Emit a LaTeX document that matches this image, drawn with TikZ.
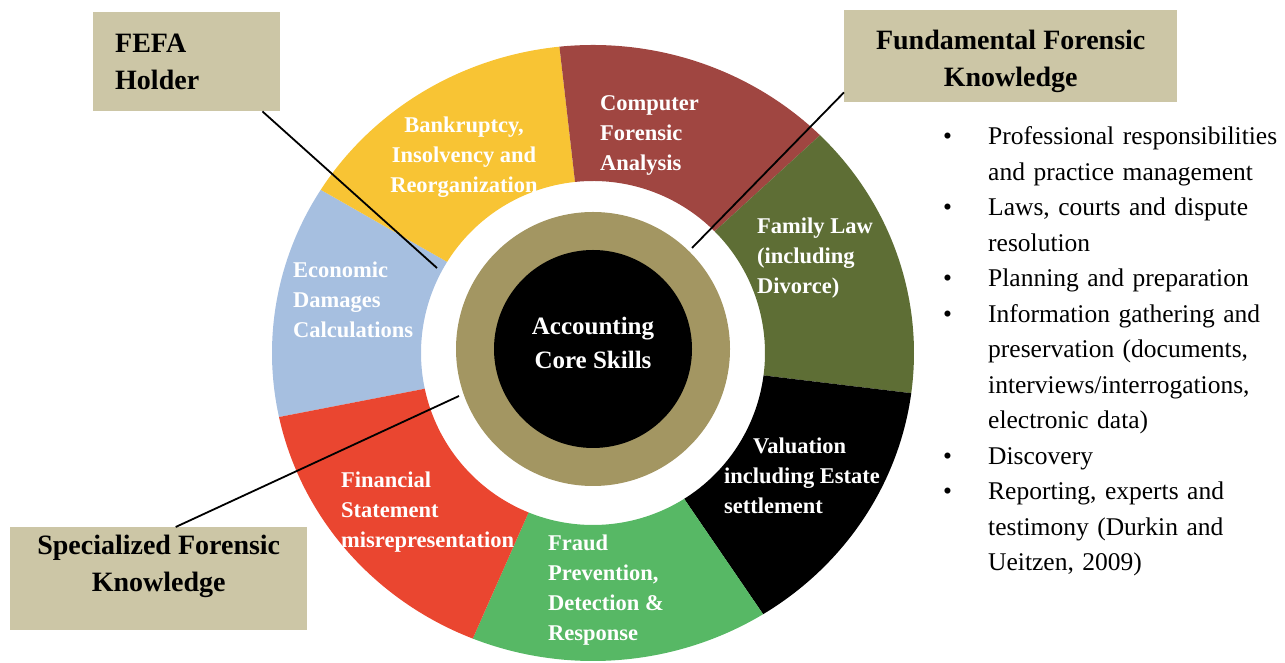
\documentclass[tikz,border=0pt]{standalone}
\usepackage{fontspec}
\setmainfont{Liberation Serif}
\usetikzlibrary{calc}

\definecolor{econblue}{RGB}{166,191,224}
\definecolor{bankyellow}{RGB}{248,196,52}
\definecolor{compred}{RGB}{160,70,65}
\definecolor{familyolive}{RGB}{94,110,53}
\definecolor{fraudgreen}{RGB}{87,184,101}
\definecolor{finred}{RGB}{234,70,48}
\definecolor{coregold}{RGB}{163,150,98}
\definecolor{boxtan}{RGB}{204,198,166}

\tikzset{
  tanbox/.style={fill=boxtan, inner sep=0pt, font=\bfseries\fontsize{28}{37}\selectfont},
  seglabel/.style={text=white, inner sep=0pt, align=left, font=\bfseries\fontsize{22.5}{30}\selectfont},
  pointer/.style={draw=black, line width=1.8pt}
}

\begin{document}
\begin{tikzpicture}[x=1pt,y=1pt]
\useasboundingbox (0,0) rectangle (1285,663);

\coordinate (ring) at (593,310);
\coordinate (core) at (593,314);

% ring of specialities
\foreach \a/\b/\col in {148/192/econblue, 96/148/bankyellow, 45/96/compred,
    -7.5/45/familyolive, -58/-7.5/black, -112/-58/fraudgreen, 192/248/finred}
  \fill[\col] ($(ring)+(\a:321 and 308)$)
    arc[start angle=\a, end angle=\b, x radius=321, y radius=308]
    -- ($(ring)+(\b:172)$)
    arc[start angle=\b, end angle=\a, radius=172] -- cycle;

% core
\fill[coregold] (core) circle[radius=137];
\fill[black] (core) circle[radius=99];
\node[text=white, align=center, inner sep=0pt,
      font=\bfseries\fontsize{25}{34}\selectfont] (skills) at ($(core)+(0,6)$) {Accounting\\Core Skills};

\begin{scope}[every node/.style={seglabel}]
  \node[anchor=west] (econ) at (293,363) {Economic\\Damages\\Calculations};
  \node[align=center] (bank) at (464,506) {Bankruptcy,\\Insolvency and\\Reorganization};
  \node[anchor=west] (comp) at (600,528) {Computer\\Forensic\\Analysis};
  \node[anchor=west] (family) at (757,405) {Family Law\\(including\\Divorce)};
  \node[anchor=west] (valu) at (724,187) {\hspace*{29pt}Valuation\\including Estate\\settlement};
  \node[anchor=west] (fin) at (341,151) {Financial\\Statement\\misrepresentation};
  \node[anchor=west] (fraud) at (548,73) {Fraud\\Prevention,\\Detection \&\\Response};
\end{scope}

% knowledge boxes
\node[tanbox, anchor=north west, minimum width=187pt, inner xsep=22pt, text width=143pt,
      align=left, text height=40pt, text depth=59pt] (fefa) at (93,651) {FEFA\\Holder};
\node[tanbox, anchor=north west, minimum width=333pt, align=center,
      text height=76pt, text depth=16pt] (fund) at (844,653) {Fundamental Forensic\\Knowledge};
\node[tanbox, anchor=north west, minimum width=297pt, align=center,
      text height=64pt, text depth=39pt] (spec) at (10,136) {Specialized Forensic\\Knowledge};

\coordinate (fefatip) at (437,395);
\coordinate (fundtip) at (692,415);
\coordinate (spectip) at (459,267);
\draw[pointer] ([xshift=-18pt]fefa.south east) -- (fefatip);
\draw[pointer] ([yshift=10pt]fund.south west) -- (fundtip);
\draw[pointer] ([xshift=17pt]spec.north) -- (spectip);

% fundamental knowledge list
\node[anchor=north west, inner sep=0pt, text width=342pt,
      font=\fontsize{25.5}{35.5}\selectfont] (topics) at (943,554) {%
  \begin{list}{\textbullet}{\setlength\leftmargin{45pt}\settowidth\labelwidth{\textbullet}%
      \setlength\labelsep{\dimexpr45pt-\labelwidth\relax}\setlength\itemsep{0pt}\setlength\parsep{0pt}%
      \setlength\topsep{0pt}\setlength\partopsep{0pt}\setlength\rightmargin{-10pt}}\raggedright
    \item Professional responsibilities\\and practice management
    \item Laws, courts and dispute\\resolution
    \item Planning and preparation
    \item Information gathering and\\preservation (documents,\\interviews/interrogations,\\electronic data)
    \item Discovery
    \item Reporting, experts and\\testimony (Durkin and\\Ueitzen, 2009)
  \end{list}};
\end{tikzpicture}
\end{document}
